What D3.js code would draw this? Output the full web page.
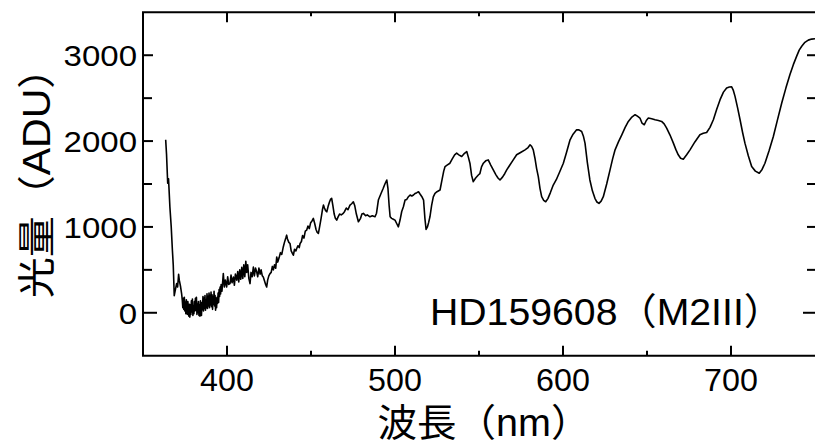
<!DOCTYPE html>
<html>
<head>
<meta charset="utf-8">
<script src="https://cdn.jsdelivr.net/npm/d3@7"></script>
<style>
  html, body { margin: 0; padding: 0; background: #fff; }
  svg { display: block; }
</style>
</head>
<body>
<div id="chart"></div>
<script>
// Spectrum of HD159608 (M2III)
const wavelength = [
  363.5,364,364.7,365.2,366,366.8,367.5,368,368.6,369.2,370,370.6,371.2,371.6,372.4,373,
  373.4,373.7,374,374.3,374.6,374.9,375.2,375.5,375.8,376.1,376.4,376.7,377,377.3,377.6,377.9,378.2,378.5,378.8,379.1,
  379.4,379.7,380,380.3,380.6,380.9,381.2,381.5,381.8,382.1,382.4,382.7,383,383.3,383.6,383.9,384.2,384.5,384.8,385.1,
  385.4,385.7,386,386.3,386.6,386.9,387.2,387.5,387.8,388.1,388.4,388.7,389,389.3,389.6,389.9,390.2,390.5,390.8,391.1,
  391.4,391.7,392,392.3,392.6,392.9,393.2,393.5,393.8,394.1,394.4,394.7,395,395.3,395.6,395.9,396.2,396.5,
  397,397.8,398.4,399,399.8,
  400.4,401,401.8,402.4,403,403.8,404.4,405,405.8,406.4,407,407.6,408.2,408.8,409.4,410,410.6,411.2,411.7,412.3,
  413,413.7,414.3,415,415.7,416.3,417,417.7,418.3,419,419.7,420.3,421,421.6,422.2,423,423.6,424.2,424.9,425.6,
  426.3,427,427.6,428.3,429,429.6,430.2,431,431.8,432.6,433.5,434.2,435,435.5,436,436.8,437.5,438.2,439,439.5,
  440.2,441,441.5,442.2,443,443.5,444.3,445,445.8,446.6,447.4,448.2,449,449.8,450.6,451.4,452.2,453,453.6,454.4,
  455.2,456,456.8,457.4,458,458.7,459.4,460.2,461,461.6,462.3,463,463.8,464.5,465.3,466.2,467,468,469.2,470,
  471,472,473.2,474.2,475.2,476,477,478.2,479.5,480.3,481.2,482.5,483.5,485.1,486.5,488.1,489,490.1,491.5,493,
  494,495.1,495.8,496.5,497.1,498,499,500,501,502,503,504,505,506,507,508,509,510,511,512,
  513,514,515,516,517,517.8,518.5,519.3,520,520.8,521.8,522.8,523.8,525,526.8,528,529,529.8,531,532.7,
  534,535.5,536.7,538,539.7,541,542.7,543.7,544.6,545.6,546.6,548,549.6,550.5,551.5,552.6,554,555.5,557,558.5,
  560,561.3,562.5,564,565.3,566.5,568,570,572.4,575,577.4,579,580.4,581.3,582.3,583.3,584.3,585.3,586.3,587.3,
  588.5,589.7,591,592.5,594.2,596,598,600.2,602,604.2,606,608.1,609.5,611.1,612.1,613.1,614.5,616,617.5,619,
  620.2,621.4,622.7,624,626,628,629.5,631,633,635,637,638.9,641,642.9,644.3,645.8,647,648.4,649.6,650.8,
  652.8,654.8,656.8,658.7,660.2,661.7,663.7,665.7,667.2,668.6,670,671.6,673.6,675.6,678.5,681.5,683.5,685.5,687.5,689.5,
  691.5,693.5,695.5,697.4,699,700.4,701.4,702.4,703.9,705.4,706.9,708.3,710.3,712.3,714.5,716.8,718.5,720.2,722.7,725.2,
  727.7,730.2,732.7,735.1,737.1,739.1,740.6,742.1,744,746,748,750
];
const flux = [
  2015,1850,1508,1560,1235,1000,729,560,200,260,340,300,448,380,300,220,
  144,60,170,40,180,20,120,-10,150,30,-20,130,60,-40,100,-51,90,-20,140,10,
  160,-30,80,-10,130,20,170,30,180,-20,100,0,130,-30,90,-40,140,10,-30,120,
  40,190,20,170,50,200,30,150,60,220,50,190,80,230,60,200,90,240,70,210,
  40,190,100,250,80,200,30,170,60,180,110,230,120,270,190,300,220,330,
  250,456,300,380,300,
  420,330,340,440,350,416,320,450,380,480,360,500,390,530,400,560,420,600,470,560,
  400,340,470,420,533,430,520,475,420,520,450,500,430,416,380,330,300,380,430,456,
  470,540,500,560,520,650,590,640,700,680,767,820,870,904,860,820,807,720,690,670,
  740,720,748,780,760,807,830,900,870,950,962,1010,980,1050,1070,1099,1040,970,940,924,
  1010,1100,1200,1254,1220,1190,1176,1240,1290,1320,1333,1250,1150,1100,1079,1120,1150,1140,1158,1180,
  1220,1200,1254,1270,1293,1250,1150,1060,1100,1150,1158,1130,1140,1118,1130,1118,1160,1313,1380,1450,
  1500,1547,1450,1250,1118,1100,1090,1079,1040,1001,1080,1180,1235,1313,1320,1352,1372,1360,1372,1390,
  1399,1410,1380,1352,1313,1100,970,1000,1050,1118,1250,1350,1391,1410,1430,1550,1650,1703,1720,1742,
  1790,1840,1859,1840,1820,1850,1878,1810,1742,1600,1527,1570,1605,1620,1700,1742,1770,1781,1720,1664,
  1610,1570,1547,1580,1620,1664,1710,1770,1840,1870,1898,1920,1956,1940,1898,1800,1680,1586,1450,1352,
  1310,1293,1330,1400,1488,1550,1640,1742,1860,2015,2080,2131,2130,2112,2060,1976,1750,1547,1420,1333,
  1290,1274,1300,1352,1500,1664,1790,1898,1990,2073,2160,2229,2280,2307,2290,2268,2210,2190,2240,2268,
  2260,2248,2240,2229,2200,2151,2070,1976,1900,1840,1800,1789,1840,1898,1990,2073,2090,2100,2160,2248,
  2370,2482,2570,2619,2630,2631,2590,2521,2390,2248,2100,1976,1830,1703,1650,1625,1670,1742,1890,2053,
  2250,2443,2620,2775,2890,2989,3060,3105,3150,3176,3188,3192
];

const xMajor = [400, 500, 600, 700];
const xMinor = [450, 550, 650];
const yMajor = [0, 1000, 2000, 3000];
const yMinor = [500, 1500, 2500];

const xTitle = "波長（nm）";
const yTitle = "光量（ADU）";
const label = "HD159608（M2III）";

const W = 815, H = 443;
const m = { left: 143, right: 815, top: 12.3, bottom: 355.7 };
const font = "'Liberation Sans', Arial, 'Noto Sans CJK JP', sans-serif";

const x = d3.scaleLinear().domain([350, 750]).range([m.left, m.right]);
const y = d3.scaleLinear().domain([-500, 3500]).range([m.bottom, m.top]);

const svg = d3.select("#chart").append("svg").attr("width", W).attr("height", H);

// frame (the right border falls outside the picture)
svg.append("path")
  .attr("d", `M${m.right + 5},${m.top}H${m.left}V${m.bottom}H${m.right + 5}`)
  .attr("fill", "none").attr("stroke", "#000").attr("stroke-width", 2);

// ticks, all pointing inward
const tk = svg.append("g").attr("stroke", "#000").attr("stroke-width", 2);
xMajor.forEach(v => {
  tk.append("line").attr("x1", x(v)).attr("x2", x(v)).attr("y1", m.bottom).attr("y2", m.bottom - 10);
  tk.append("line").attr("x1", x(v)).attr("x2", x(v)).attr("y1", m.top).attr("y2", m.top + 10);
});
xMinor.forEach(v => {
  tk.append("line").attr("x1", x(v)).attr("x2", x(v)).attr("y1", m.bottom).attr("y2", m.bottom - 5);
  tk.append("line").attr("x1", x(v)).attr("x2", x(v)).attr("y1", m.top).attr("y2", m.top + 4);
});
yMajor.concat(yMinor).forEach(v => {
  const big = v === 0;
  const len = big ? 14 : (yMajor.includes(v) ? 10 : 9);
  tk.append("line").attr("x1", m.left).attr("x2", m.left + len).attr("y1", y(v)).attr("y2", y(v));
  tk.append("line").attr("x1", m.right).attr("x2", m.right - (big ? 12 : 8)).attr("y1", y(v)).attr("y2", y(v));
});

// tick labels
svg.append("g").selectAll("text").data(xMajor).join("text")
  .attr("transform", d => `translate(${x(d)},391) scale(1.04,1)`)
  .attr("text-anchor", "middle")
  .style("font-family", font).style("font-size", "31px").style("fill", "#000")
  .text(d => d);

svg.append("g").selectAll("text").data(yMajor).join("text")
  .attr("transform", d => `translate(137,${y(d)}) scale(1.1,1)`).attr("dy", "0.36em")
  .attr("text-anchor", "end")
  .style("font-family", font).style("font-size", "30px").style("fill", "#000")
  .text(d => d);

// spectrum
const line = d3.line().x(d => x(d[0])).y(d => y(d[1]));
svg.append("path")
  .datum(d3.zip(wavelength, flux))
  .attr("fill", "none").attr("stroke", "#000").attr("stroke-width", 1.6)
  .attr("stroke-linejoin", "round")
  .attr("d", line);

// titles
svg.append("text")
  .attr("transform", "translate(484,436) scale(1.04,1)").attr("text-anchor", "middle")
  .style("font-family", font).style("font-size", "38px").style("fill", "#000")
  .text(xTitle);

svg.append("text")
  .attr("transform", "translate(50,173) rotate(-90) scale(1.08,1)").attr("text-anchor", "middle")
  .style("font-family", font).style("font-size", "38px").style("fill", "#000")
  .text(yTitle);

svg.append("text")
  .attr("transform", "translate(430,325) scale(1.06,1)")
  .style("font-family", font).style("font-size", "37px").style("fill", "#000")
  .text(label);
</script>
</body>
</html>
